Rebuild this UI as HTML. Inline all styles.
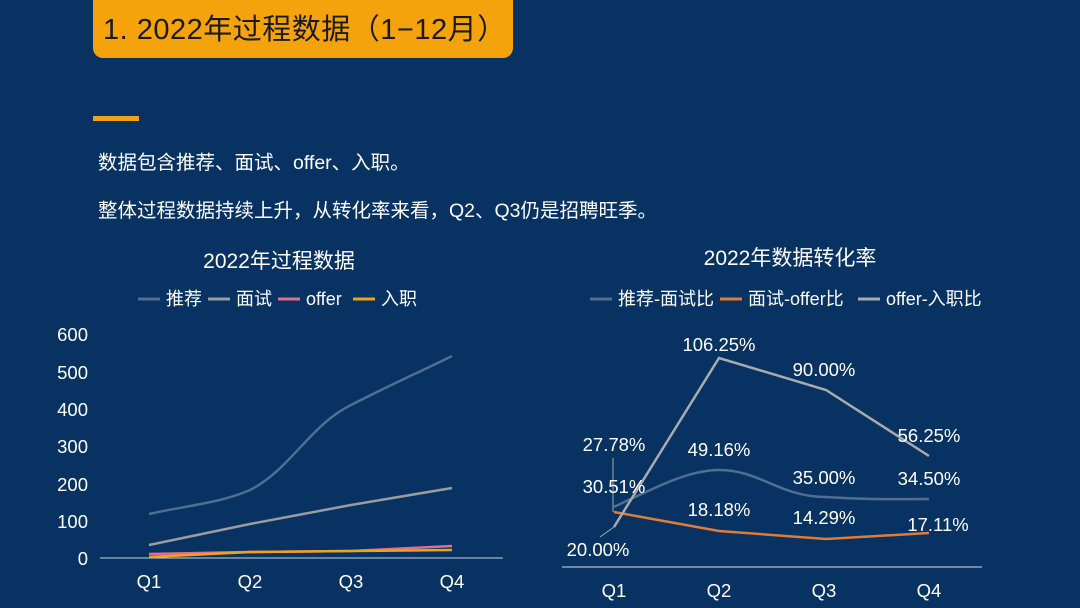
<!DOCTYPE html>
<html><head><meta charset="utf-8"><style>
body{margin:0;width:1080px;height:608px;background:#083261;overflow:hidden;font-family:"Liberation Sans","Noto Sans CJK SC",sans-serif;position:relative}
.t{position:absolute;left:93px;top:-10px;width:420px;height:68px;background:#f5a30c;border-radius:10px}
.t span{position:absolute;left:10px;top:16px;font-size:29px;color:#1a1a1a;letter-spacing:0.5px}
.bar{position:absolute;left:93px;top:116px;width:46px;height:5px;background:#f0a21a}
.p{position:absolute;left:98px;color:#fff;font-size:19.5px}
</style></head><body>
<div class="t"><span>1. 2022年过程数据（1−12月）</span></div>
<div class="bar"></div>
<div class="p" style="top:146px">数据包含推荐、面试、offer、入职。</div>
<div class="p" style="top:194px">整体过程数据持续上升，从转化率来看，Q2、Q3仍是招聘旺季。</div>
<svg width="1080" height="608" style="position:absolute;left:0;top:0" font-family="Liberation Sans,Noto Sans CJK SC,sans-serif" fill="#fff">
<text x="279" y="268" font-size="21" text-anchor="middle">2022年过程数据</text>
<g font-size="18">
<line x1="138" y1="299" x2="160" y2="299" stroke="#4f6e93" stroke-width="3"/><text x="166" y="305">推荐</text>
<line x1="208" y1="299" x2="230" y2="299" stroke="#9a9ca0" stroke-width="3"/><text x="236" y="305">面试</text>
<line x1="278" y1="299" x2="300" y2="299" stroke="#e0708a" stroke-width="3"/><text x="306" y="305">offer</text>
<line x1="353" y1="299" x2="375" y2="299" stroke="#f0a21a" stroke-width="3"/><text x="381" y="305">入职</text>
</g>
<g font-size="18.5" text-anchor="end">
<text x="88" y="341">600</text><text x="88" y="379">500</text><text x="88" y="416">400</text><text x="88" y="453">300</text><text x="88" y="491">200</text><text x="88" y="528">100</text><text x="88" y="565">0</text>
</g>
<line x1="100" y1="558" x2="503" y2="558" stroke="#c9d4e0" stroke-width="1"/>
<g font-size="18.5" text-anchor="middle"><text x="149" y="588">Q1</text><text x="250" y="588">Q2</text><text x="351" y="588">Q3</text><text x="452" y="588">Q4</text></g>
<g fill="none" stroke-width="2.5">
<path d="M149,514 C190,505 220,503 250,490 C290,470 310,425 351,405 C400,380 420,372 452,356" stroke="#4f6e93"/>
<path d="M149,545 L250,524 L351,505 L452,488" stroke="#9a9ca0"/>
<path d="M149,554 L250,552 L351,551 L452,546" stroke="#e0708a"/>
<path d="M149,557 L250,552 L351,551 L452,550" stroke="#f0a21a"/>
</g>
<text x="790" y="265" font-size="21" text-anchor="middle">2022年数据转化率</text>
<g font-size="18">
<line x1="590" y1="299" x2="612" y2="299" stroke="#4f6e93" stroke-width="3"/><text x="618" y="305">推荐-面试比</text>
<line x1="720" y1="299" x2="742" y2="299" stroke="#e07b38" stroke-width="3"/><text x="748" y="305">面试-offer比</text>
<line x1="858" y1="299" x2="880" y2="299" stroke="#a9aaad" stroke-width="3"/><text x="886" y="305">offer-入职比</text>
</g>
<line x1="562" y1="567" x2="982" y2="567" stroke="#8ea6c4" stroke-width="1.5"/>
<g font-size="18.5" text-anchor="middle"><text x="614" y="597">Q1</text><text x="719" y="597">Q2</text><text x="824" y="597">Q3</text><text x="929" y="597">Q4</text></g>
<g fill="none" stroke-width="2.5">
<path d="M614,507 C660,485 690,470 719,470 C760,470 780,497 826,497 C870,500 900,499 929,499" stroke="#4f6e93"/>
<path d="M614,512 L719,531 L826,539 L929,533" stroke="#e07b38"/>
<path d="M614,527 L719,358 L826,390 L929,456" stroke="#a9aaad"/>
<path d="M613,458 L613,512 M600,537 L614,527" stroke="#a9aaad" stroke-width="1"/>
</g>
<g font-size="18.5" text-anchor="middle">
<text x="614" y="451">27.78%</text><text x="614" y="493">30.51%</text><text x="598" y="556">20.00%</text>
<text x="719" y="351">106.25%</text><text x="719" y="456">49.16%</text><text x="719" y="516">18.18%</text>
<text x="824" y="376">90.00%</text><text x="824" y="484">35.00%</text><text x="824" y="524">14.29%</text>
<text x="929" y="442">56.25%</text><text x="929" y="485">34.50%</text><text x="938" y="531">17.11%</text>
</g>
</svg>
</body></html>
